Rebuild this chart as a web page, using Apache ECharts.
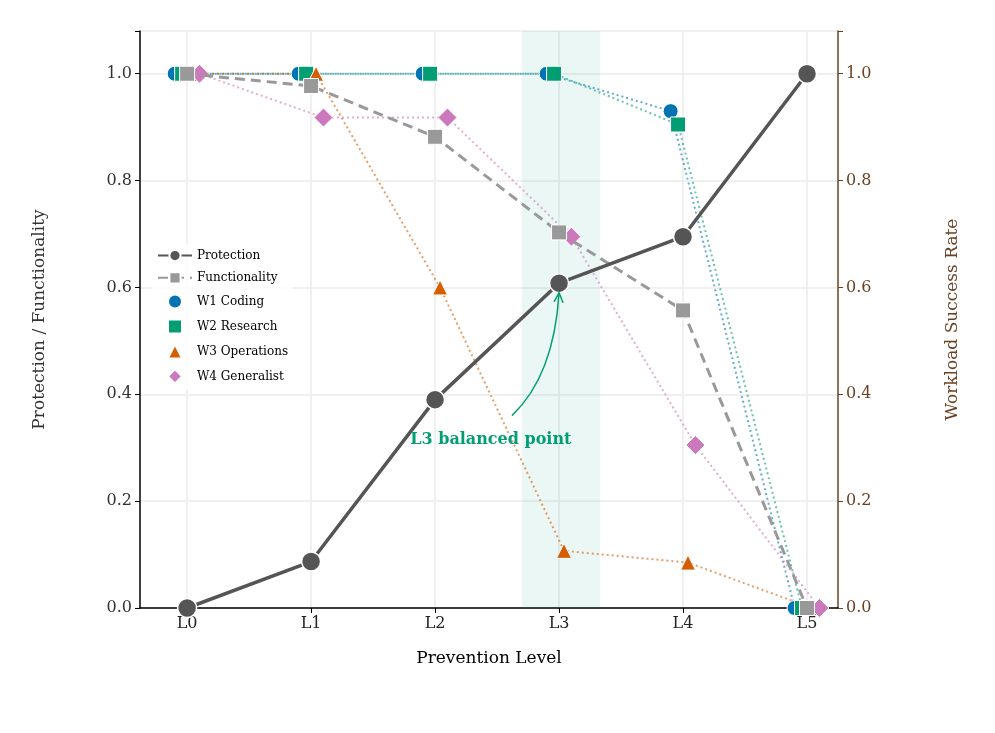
<!DOCTYPE html>
<html><head><meta charset="utf-8">
<script src="https://cdn.jsdelivr.net/npm/echarts@6/dist/echarts.min.js"></script>
<style>html,body{margin:0;background:#fff}#c{width:995px;height:733px}</style></head>
<body><div id="c"></div>
<script>
const levels = ['L0','L1','L2','L3','L4','L5'];
const protection = [0, 0.087, 0.39, 0.608, 0.695, 1.0];
const functionality = [1.0, 0.977, 0.882, 0.703, 0.557, 0.0];
const w1 = [1, 1, 1, 1, 0.93, 0];
const w2 = [1, 1, 1, 1, 0.905, 0];
const w3 = [1, 1, 0.6, 0.107, 0.085, 0];
const w4 = [1, 0.918, 0.918, 0.695, 0.305, 0];
const yTicks = [0, 0.2, 0.4, 0.6, 0.8, 1.0];
const F = 'DejaVu Serif';
const xIdx = levels.map((_, i) => i);
const pts = (arr, off) => arr.map((v, i) => [i + off, v]);
function wl(name, arr, off, color, symbol, size) {
  return {name, type: 'line', data: pts(arr, off), symbol, symbolSize: size, symbolKeepAspect: true,
    itemStyle: {color, borderColor: '#fff', borderWidth: 1},
    lineStyle: {color, type: [2, 3], width: 2, opacity: 0.6}, z: 3};
}
const SQ = 'path://M0,0L1,0L1,1L0,1Z', TRI = 'path://M0.5,0L1,1L0,1Z', DIA = 'path://M0.5,0L1,0.5L0.5,1L0,0.5Z';
const chart = echarts.init(document.getElementById('c'));
const axisCommon = {
  type: 'value', min: 0, max: 1.08, interval: 0.2,
  axisTick: {show: true, length: 5},
  axisLabel: {fontFamily: F, fontSize: 16, formatter: v => yTicks.includes(Math.round(v*10)/10) ? v.toFixed(1) : ''},
  nameLocation: 'middle'
};
chart.setOption({
  animation: false,
  grid: {left: 140, right: 157, top: 31, bottom: 125},
  xAxis: {type: 'value', min: -0.38, max: 5.25,
    axisLine: {onZero: false, lineStyle: {color: '#000', width: 1.5}},
    axisTick: {length: 5, lineStyle: {color: '#000'}, customValues: xIdx},
    axisLabel: {fontFamily: F, fontSize: 16, color: '#222', customValues: xIdx, formatter: v => levels[Math.round(v)] ?? ''},
    splitLine: {show: false},
    name: 'Prevention Level', nameLocation: 'middle', nameGap: 42, nameTextStyle: {fontFamily: F, fontSize: 17, color: '#000'}},
  yAxis: [
    Object.assign({}, axisCommon, {name: 'Protection / Functionality', nameGap: 92,
      axisLine: {show: true, onZero: false, lineStyle: {color: '#000', width: 1.5}}, axisLabel: Object.assign({}, axisCommon.axisLabel, {color: '#333'}),
      nameTextStyle: {fontFamily: F, fontSize: 17, color: '#333'},
      splitLine: {lineStyle: {color: '#ebebeb', width: 1.5}}}),
    Object.assign({}, axisCommon, {position: 'right', name: 'Workload Success Rate', nameGap: 106,
      axisLine: {show: true, onZero: false, lineStyle: {color: '#6b4226', width: 1.5}}, axisTick: {show: true, length: 5, lineStyle: {color: '#6b4226'}},
      axisLabel: Object.assign({}, axisCommon.axisLabel, {color: '#6b4226'}),
      nameTextStyle: {fontFamily: F, fontSize: 17, color: '#6b4226'}, splitLine: {show: false}})
  ],
  legend: {left: 152, top: 244, orient: 'vertical', itemGap: 9, itemWidth: 34, itemHeight: 14,
    textStyle: {fontFamily: F, fontSize: 12, color: '#000'}, backgroundColor: 'rgba(255,255,255,0.8)',
    data: [{name: 'Protection'}, {name: 'Functionality'},
      {name: 'W1 Coding', icon: 'circle'}, {name: 'W2 Research', icon: SQ},
      {name: 'W3 Operations', icon: TRI}, {name: 'W4 Generalist', icon: DIA}]},
  series: [
    {name: 'Protection', type: 'line', data: pts(protection, 0), symbol: 'circle', symbolSize: 19,
      itemStyle: {color: '#555', borderColor: '#fff', borderWidth: 1.5}, lineStyle: {color: '#555', width: 3.5}, z: 5,
      markArea: {silent: true, itemStyle: {color: 'rgba(2,158,115,0.08)'}, data: [[{xAxis: 2.7}, {xAxis: 3.33}]]},
      markLine: {silent: true, symbol: 'none', label: {show: false}, lineStyle: {color: '#ebebeb', width: 1.5, type: 'solid'}, z: 0,
        data: xIdx.map(v => ({xAxis: v}))}},
    {name: 'Functionality', type: 'line', data: pts(functionality, 0), symbol: 'rect', symbolSize: 15,
      itemStyle: {color: '#999', borderColor: '#fff', borderWidth: 1}, lineStyle: {color: '#999', width: 3, type: [10, 6]}, z: 4},
    wl('W1 Coding', w1, -0.1, '#0173b2', 'circle', 15),
    wl('W2 Research', w2, -0.04, '#029e73', 'rect', 15),
    wl('W3 Operations', w3, 0.04, '#d55e00', 'triangle', 15),
    wl('W4 Generalist', w4, 0.1, '#cc78bc', 'diamond', 19)
  ]
});
const a = chart.convertToPixel({gridIndex: 0}, [2.62, 0.36]);
const b = chart.convertToPixel({gridIndex: 0}, [3.0, 0.59]);
const t = chart.convertToPixel({gridIndex: 0}, [2.45, 0.315]);
const cx = b[0] - 5, cy = a[1] - 40;
chart.setOption({graphic: [
  {type: 'text', x: t[0], y: t[1], style: {text: 'L3 balanced point', fontFamily: F, fontSize: 16, fontWeight: 'bold', fill: '#029e73', align: 'center', verticalAlign: 'middle'}, z: 10},
  {type: 'bezierCurve', shape: {x1: a[0], y1: a[1], x2: b[0], y2: b[1], cpx1: cx, cpy1: cy}, style: {stroke: '#029e73', lineWidth: 1.5, fill: null}, z: 10},
  {type: 'polyline', shape: {points: [[b[0]-5, b[1]+9], [b[0], b[1]], [b[0]+4, b[1]+10]]}, style: {stroke: '#029e73', lineWidth: 1.5, fill: null}, z: 10}
]});
</script></body></html>
